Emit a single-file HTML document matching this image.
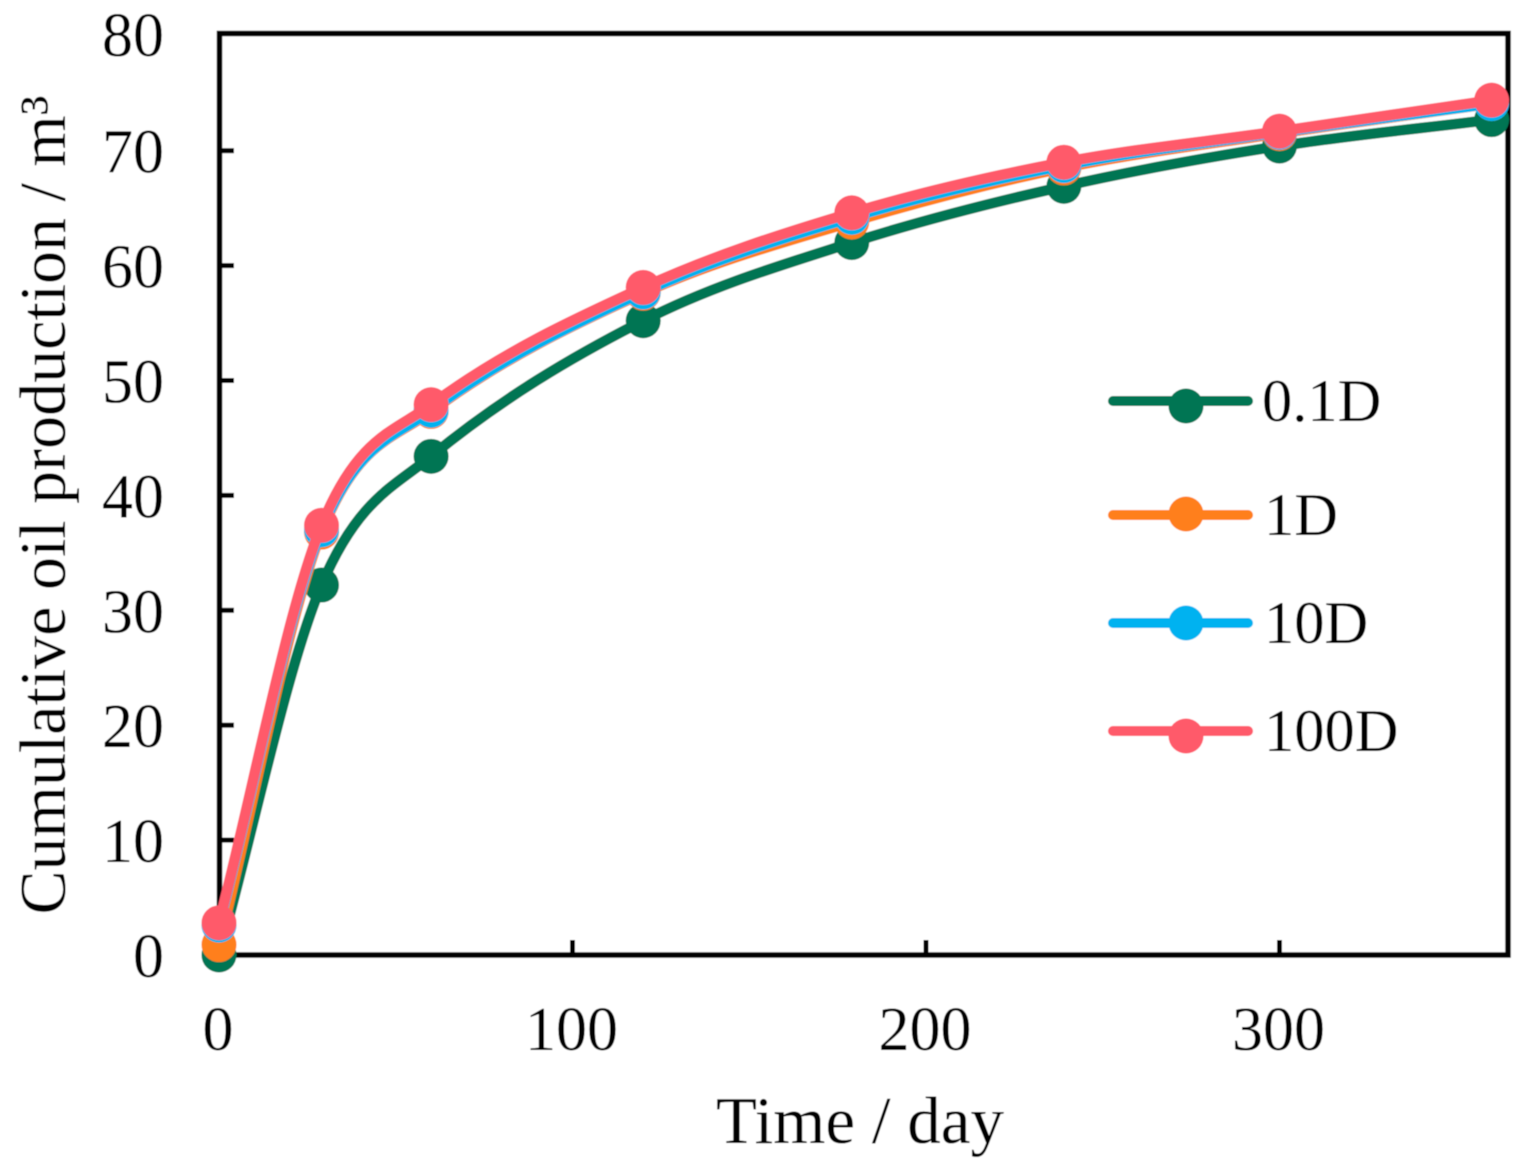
<!DOCTYPE html>
<html lang="en">
<head>
<meta charset="utf-8">
<title>Cumulative oil production over time</title>
<style>
html,body{margin:0;padding:0;background:#fff;width:1535px;height:1174px;overflow:hidden}
svg{display:block}
text{font-family:"Liberation Serif",serif;fill:#000}
</style>
</head>
<body>
<svg id="chart" xmlns="http://www.w3.org/2000/svg" width="1535" height="1174" viewBox="0 0 1535 1174">
<defs><filter id="soft" x="-5%" y="-5%" width="110%" height="110%"><feGaussianBlur stdDeviation="0.6"/></filter></defs>
<g id="root" filter="url(#soft)">
<rect x="0" y="0" width="1535" height="1174" fill="#fff"/>
<g id="ticks"></g>
<rect x="219.5" y="33.5" width="1288.5" height="921.5" fill="none" stroke="#000" stroke-width="5.5"/>
<g id="series"></g>
<g id="labels"></g>
<g id="legend"></g>
<text x="860" y="1143" font-size="67" text-anchor="middle">Time / day</text>
<text transform="translate(65,505) rotate(-90)" font-size="66" text-anchor="middle">Cumulative oil production / m³</text>
</g>
</svg>
<script>
const days = [0, 29, 60, 120, 179, 239, 300, 360];
const xTicks = [0, 100, 200, 300];
const yTicks = [0, 10, 20, 30, 40, 50, 60, 70, 80];
const seriesNames = ["0.1D", "1D", "10D", "100D"];
const seriesColors = ["#037552", "#FF7F1F", "#00B2F0", "#FF5A6A"];
const oil01D = [0.0, 32.2, 43.4, 55.2, 62.0, 66.9, 70.4, 72.7];
const oil1D = [0.9, 36.8, 47.3, 57.6, 63.8, 68.5, 71.5, 74.1];
const oil10D = [2.6, 37.0, 47.4, 57.7, 64.2, 68.7, 71.6, 74.1];
const oil100D = [2.8, 37.4, 47.9, 58.1, 64.6, 69.0, 71.7, 74.4];
const seriesValues = [oil01D, oil1D, oil10D, oil100D];

const NS = "http://www.w3.org/2000/svg";
const xScale = d => 219 + d * 3.535;
const yScale = v => 955 - v * 11.49;

function make(tag, attrs, parent) {
  const el = document.createElementNS(NS, tag);
  for (const k in attrs) el.setAttribute(k, attrs[k]);
  parent.appendChild(el);
  return el;
}

function smoothPath(pts) {
  const slope = i => {
    const a = pts[Math.max(i - 1, 0)];
    const b = pts[Math.min(i + 1, pts.length - 1)];
    return (b[1] - a[1]) / (b[0] - a[0]);
  };
  let d = "M" + pts[0][0] + " " + pts[0][1];
  for (let i = 0; i < pts.length - 1; i++) {
    const p1 = pts[i];
    const p2 = pts[i + 1];
    const h = (p2[0] - p1[0]) / 3;
    const c1x = p1[0] + h;
    const c1y = p1[1] + slope(i) * h;
    const c2x = p2[0] - h;
    const c2y = p2[1] - slope(i + 1) * h;
    d += "C" + c1x + " " + c1y + " " + c2x + " " + c2y + " " + p2[0] + " " + p2[1];
  }
  return d;
}

const ticksG = document.getElementById("ticks");
const labelsG = document.getElementById("labels");
const seriesG = document.getElementById("series");
const legendG = document.getElementById("legend");

xTicks.forEach(t => {
  const tick = make("line", {x1: xScale(t), x2: xScale(t), y1: 955, y2: 940, stroke: "#000", "stroke-width": 5}, ticksG);
  
  
  const label = make("text", {x: xScale(t) - 1, y: 1050, "font-size": 62, "text-anchor": "middle"}, labelsG);
  label.textContent = t;
  
  
});

yTicks.forEach(t => {
  const top = t === yTicks[yTicks.length - 1];
  if (!top) {
    const tick = make("line", {x1: 219, x2: 234, y1: yScale(t), y2: yScale(t), stroke: "#000", "stroke-width": 5}, ticksG);
    
    
  }
  const label = make("text", {x: 164, y: yScale(t) + (top ? 20 : 22), "font-size": 62, "text-anchor": "end"}, labelsG);
  label.textContent = t;
  
  
});

seriesValues.forEach((vals, s) => {
  const pts = vals.map((v, i) => [xScale(days[i]), yScale(v)]);
  const line = make("path", {d: smoothPath(pts), fill: "none", stroke: seriesColors[s], "stroke-width": 10.5, "stroke-linejoin": "round"}, seriesG);
  
  
  pts.forEach(p => {
    const dot = make("circle", {cx: p[0], cy: p[1], r: 17.5, fill: seriesColors[s]}, seriesG);
    
    
  });
});

const legendLineRows = [401, 515, 623, 731];
const legendDotRows = [406, 514, 623, 736];
seriesNames.forEach((name, s) => {
  const y = legendLineRows[s];
  const line = make("line", {x1: 1113, x2: 1248, y1: y, y2: y, stroke: seriesColors[s], "stroke-width": 10, "stroke-linecap": "round"}, legendG);
  
  
  const dot = make("circle", {cx: 1186, cy: legendDotRows[s], r: 17.5, fill: seriesColors[s]}, legendG);
  
  
  const label = make("text", {x: name[0] === "0" ? 1262 : 1264, y: y + 20, "font-size": 60.5}, legendG);
  label.textContent = name;
  
  
});
</script>
</body>
</html>
